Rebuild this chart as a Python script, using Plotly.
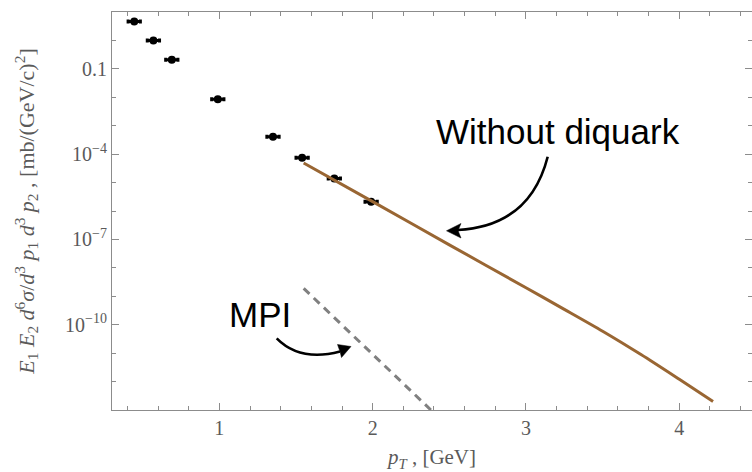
import plotly.graph_objects as go

# ---- data ----
pt_data = [0.445, 0.57, 0.69, 0.99, 1.35, 1.54, 1.75, 1.99]
xs_data = [4.6, 0.99, 0.21, 8.5e-3, 4.1e-4, 7.4e-5, 1.4e-5, 2.1e-6]
pt_err = [0.04, 0.04, 0.04, 0.04, 0.04, 0.04, 0.04, 0.04]

pt_nodq = [1.55, 2.0, 2.5, 3.0, 3.25, 3.5, 3.75, 4.0, 4.22]
xs_nodq = [4.9e-5, 2.14e-6, 6.46e-8, 2.0e-9, 3.47e-10, 5.9e-11, 8.9e-12, 1.2e-12, 2.0e-13]

pt_mpi = [1.55, 2.38]
xs_mpi = [1.9e-9, 1.0e-13]

x_ticks = [1, 2, 3, 4]
y_ticks = [0.1, 1e-4, 1e-7, 1e-10]
y_ticktext = ["0.1", "10<sup>−4</sup>", "10<sup>−7</sup>", "10<sup>−10</sup>"]
y_minor = [10.0 ** k for k in range(-13, 1)]

# ---- layout geometry (pixels) ----
W, H = 752, 472
ML, MR, MT, MB = 112, 0, 12, 62
PW, PH = W - ML - MR, H - MT - MB


def px(X):
    return (X - ML) / PW


def py(Y):
    return (H - MB - Y) / PH


GRAY_TXT = "#5a5a5a"
AX = "#8c8c8c"
SERIF = "Liberation Serif"
SANS = "Liberation Sans"

fig = go.Figure()
fig.add_trace(go.Scatter(
    x=pt_data, y=xs_data, mode="markers",
    marker=dict(color="black", size=8),
    error_x=dict(type="data", array=pt_err, color="black", thickness=3, width=2),
    showlegend=False,
))
fig.add_trace(go.Scatter(
    x=pt_nodq, y=xs_nodq, mode="lines",
    line=dict(color="#996633", width=3, shape="spline", smoothing=0.8), showlegend=False,
))
fig.add_trace(go.Scatter(
    x=pt_mpi, y=xs_mpi, mode="lines",
    line=dict(color="#808080", width=3, dash="8px,6px"), showlegend=False,
))


def curve(p0, c, p1):
    return dict(type="path", xref="paper", yref="paper",
                path=f"M {px(p0[0])},{py(p0[1])} Q {px(c[0])},{py(c[1])} {px(p1[0])},{py(p1[1])}",
                line=dict(color="black", width=2.6))


def head(tip, b1, notch, b2):
    pts = [tip, b1, notch, b2]
    d = "M " + " L ".join(f"{px(a)},{py(b)}" for a, b in pts) + " Z"
    return dict(type="path", xref="paper", yref="paper", path=d,
                fillcolor="black", line=dict(color="black", width=0.5))


shapes = [
    curve((547.7, 156.7), (530, 226), (458, 230)),
    head((446.5, 230.8), (461, 223.5), (458, 230.5), (461, 238)),
    curve((276.7, 338.3), (300, 362), (340, 351.5)),
    head((351, 346.5), (337.5, 344.5), (340, 351.5), (341.5, 357.5)),
]

fig.update_layout(
    width=W, height=H,
    margin=dict(l=ML, r=MR, t=MT, b=MB, pad=0),
    paper_bgcolor="white", plot_bgcolor="white",
    shapes=shapes,
    annotations=[
        dict(text="Without diquark", x=px(558), y=py(131), xref="paper", yref="paper",
             showarrow=False, font=dict(family=SANS, size=35, color="black"),
             xanchor="center", yanchor="middle"),
        dict(text="MPI", x=px(260), y=py(314), xref="paper", yref="paper",
             showarrow=False, font=dict(family=SANS, size=35, color="black"),
             xanchor="center", yanchor="middle"),
    ],
    xaxis=dict(
        range=[0.3, 0.3 + PW / 153.33], tickvals=x_ticks,
        ticks="inside", ticklen=7, tickwidth=1, tickcolor=AX,
        showline=True, linecolor=AX, linewidth=1.2, mirror="ticks",
        showgrid=False, zeroline=False,
        minor=dict(dtick=0.2, tick0=0, ticks="inside", ticklen=4, tickwidth=1, tickcolor=AX, showgrid=False),
        tickfont=dict(family=SERIF, size=20, color=GRAY_TXT),
        title=dict(text="<i>p</i><sub><i>T</i></sub> , [GeV]",
                   font=dict(family=SERIF, size=21, color=GRAY_TXT), standoff=11),
    ),
    yaxis=dict(
        type="log", range=[-13, 1], tickvals=y_ticks, ticktext=y_ticktext,
        ticks="inside", ticklen=7, tickwidth=1, tickcolor=AX,
        showline=True, linecolor=AX, linewidth=1.2, mirror="ticks",
        showgrid=False, zeroline=False,
        minor=dict(tickvals=y_minor, ticks="inside", ticklen=4, tickwidth=1, tickcolor=AX, showgrid=False),
        tickfont=dict(family=SERIF, size=20, color=GRAY_TXT),
        title=dict(text="<i>E</i><sub>1</sub> <i>E</i><sub>2</sub> <i>d</i><sup>6</sup><i>σ</i>/<i>d</i><sup>3</sup> <i>p</i><sub>1</sub> <i>d</i><sup>3</sup> <i>p</i><sub>2</sub> , [mb/(GeV/c)<sup>2</sup>]",
                   font=dict(family=SERIF, size=22, color=GRAY_TXT), standoff=24),
    ),
)

fig.write_html("out.html")
